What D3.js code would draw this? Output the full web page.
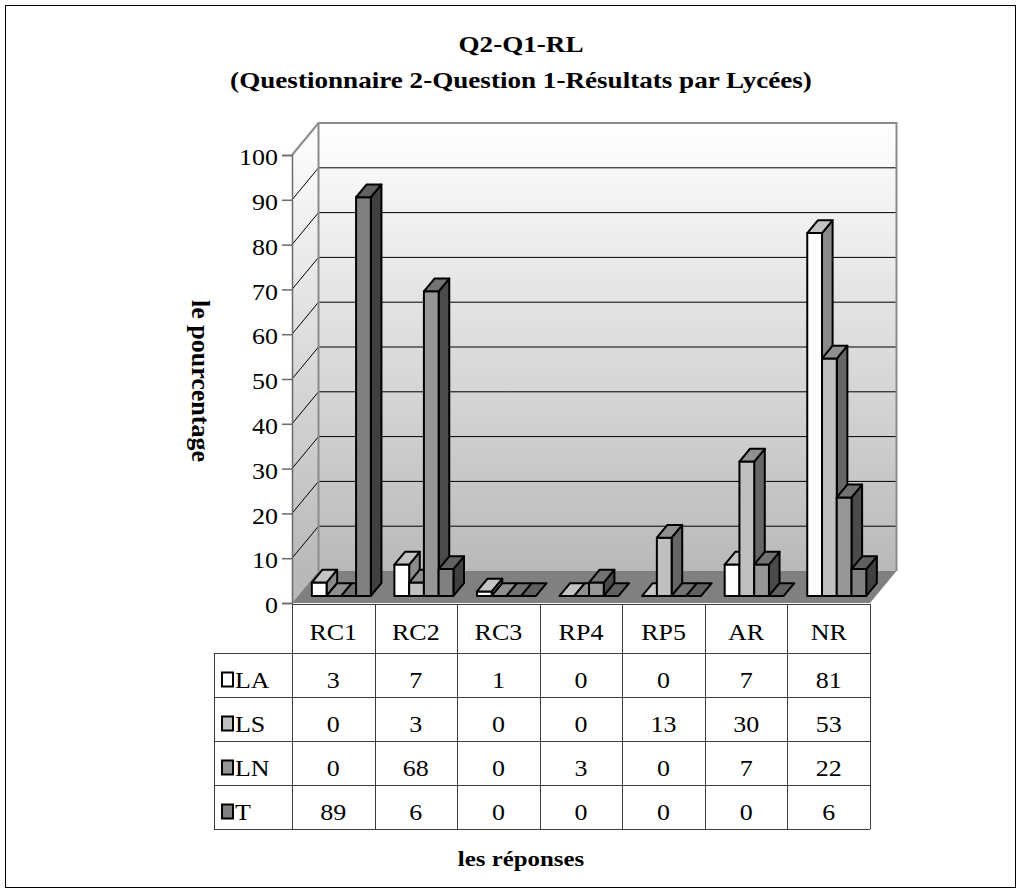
<!DOCTYPE html>
<html>
<head>
<meta charset="utf-8">
<script src="https://cdn.jsdelivr.net/npm/d3@7"></script>
<style>
  html, body { margin: 0; padding: 0; background: #fff; }
  svg text { font-family: "Liberation Serif", "Times New Roman", Times, serif; }
</style>
</head>
<body>
<svg id="chart" width="1021" height="893"></svg>
<script>
// Responses (categories) and the share of each school for every response, in percent
const categories = ["RC1", "RC2", "RC3", "RP4", "RP5", "AR", "NR"];
const seriesNames = ["LA", "LS", "LN", "T"];
const valuesLA = [3, 7, 1, 0, 0, 7, 81];
const valuesLS = [0, 3, 0, 0, 13, 30, 53];
const valuesLN = [0, 68, 0, 3, 0, 7, 22];
const valuesT  = [89, 6, 0, 0, 0, 0, 6];
const yTicks = [0, 10, 20, 30, 40, 50, 60, 70, 80, 90, 100];

const series = [
  { name: "LA", values: valuesLA, front: "#ffffff", top: "#c4c4c4", side: "#8a8a8a" },
  { name: "LS", values: valuesLS, front: "#c0c0c0", top: "#909090", side: "#666666" },
  { name: "LN", values: valuesLN, front: "#969696", top: "#727272", side: "#4b4b4b" },
  { name: "T",  values: valuesT,  front: "#808080", top: "#606060", side: "#404040" }
];

const svg = d3.select("#chart");
const W = 1021, H = 893;
const SX = 1.13; // horizontal widening of the text face

// text helper: places a horizontally widened label at (px, py)
function label(parent, px, py, txt, size, opts = {}) {
  const g = parent.append("g").attr("transform", `translate(${px},${py}) scale(${SX},1)`);
  return g.append("text").attr("x", 0).attr("y", 0)
    .attr("text-anchor", opts.anchor || "middle")
    .attr("font-weight", opts.bold ? "bold" : "normal")
    .attr("font-size", size).attr("fill", "#000").text(txt);
}

// frame
svg.append("rect").attr("x", 5.5).attr("y", 5.5).attr("width", W - 11).attr("height", H - 11)
  .attr("fill", "#fff").attr("stroke", "#000").attr("stroke-width", 1);

// title
label(svg, 521, 52, "Q2-Q1-RL", 24, { bold: true });
label(svg, 521, 88, "(Questionnaire 2-Question 1-Résultats par Lycées)", 24, { bold: true });

// 3D plot frame: front plane scales plus a depth offset
const x = d3.scaleBand().domain(categories).range([292, 870]);
const y = d3.scaleLinear().domain([0, 100]).range([603, 155]);
const xs = d3.scaleBand().domain(seriesNames).range([14, 73]);
const DX = 26.5, DY = -32;
const P = (px, v, z) => [px + z * DX, y(v) + z * DY];
const [xL, xR] = x.range();

const defs = svg.append("defs");
const grad = defs.append("linearGradient").attr("id", "wallGrad")
  .attr("gradientUnits", "userSpaceOnUse")
  .attr("x1", 0).attr("y1", P(xL, 100, 1)[1]).attr("x2", 0).attr("y2", P(xL, 0, 1)[1]);
grad.append("stop").attr("offset", 0).attr("stop-color", "#ffffff");
grad.append("stop").attr("offset", 1).attr("stop-color", "#b9b9b9");

const poly = pts => pts.map(p => p.join(",")).join(" ");

// back wall
svg.append("polygon")
  .attr("points", poly([P(xL, 100, 1), P(xR, 100, 1), P(xR, 0, 1), P(xL, 0, 1)]))
  .attr("fill", "url(#wallGrad)");
// side wall
svg.append("polygon")
  .attr("points", poly([P(xL, 100, 0), P(xL, 100, 1), P(xL, 0, 1), P(xL, 0, 0)]))
  .attr("fill", "url(#wallGrad)");

// gridlines on back and side walls
const inner = yTicks.filter(t => t > 0 && t < 100);
svg.append("g").selectAll("line").data(inner).join("line")
  .attr("x1", d => P(xL, d, 1)[0]).attr("y1", d => P(xL, d, 1)[1])
  .attr("x2", d => P(xR, d, 1)[0]).attr("y2", d => P(xR, d, 1)[1])
  .attr("stroke", "#000").attr("stroke-width", 1);
svg.append("g").selectAll("line").data(inner).join("line")
  .attr("x1", d => P(xL, d, 0)[0]).attr("y1", d => P(xL, d, 0)[1])
  .attr("x2", d => P(xL, d, 1)[0]).attr("y2", d => P(xL, d, 1)[1])
  .attr("stroke", "#000").attr("stroke-width", 1);

// wall edges
const edge = "#8c8c8c";
svg.append("polyline")
  .attr("points", poly([P(xL, 100, 0), P(xL, 100, 1), P(xR, 100, 1), P(xR, 0, 1)]))
  .attr("fill", "none").attr("stroke", edge).attr("stroke-width", 2);
svg.append("line")
  .attr("x1", P(xL, 100, 1)[0]).attr("y1", P(xL, 100, 1)[1])
  .attr("x2", P(xL, 0, 1)[0]).attr("y2", P(xL, 0, 1)[1])
  .attr("stroke", edge).attr("stroke-width", 2);

// floor
svg.append("polygon")
  .attr("points", poly([P(xL, 0, 0), P(xR, 0, 0), P(xR, 0, 1), P(xL, 0, 1)]))
  .attr("fill", "#808080");

// bars, drawn category by category, left to right
const z0 = 0.22, zd = 0.4;
const bw = xs.bandwidth();
const bars = svg.append("g").attr("stroke", "#000").attr("stroke-width", 2)
  .attr("stroke-linejoin", "round");
categories.forEach((c, i) => {
  series.forEach(s => {
    const v = s.values[i];
    const bx = x(c) + xs(s.name);
    const fl = P(bx, v, z0), fr = P(bx + bw, v, z0);
    const bl = P(bx, v, z0 + zd), br = P(bx + bw, v, z0 + zd);
    const flb = P(bx, 0, z0), frb = P(bx + bw, 0, z0), brb = P(bx + bw, 0, z0 + zd);
    if (v > 0) {
      bars.append("polygon").attr("points", poly([fr, br, brb, frb])).attr("fill", s.side);
      bars.append("polygon").attr("points", poly([fl, fr, frb, flb])).attr("fill", s.front);
    }
    bars.append("polygon").attr("points", poly([fl, bl, br, fr])).attr("fill", s.top);
  });
});

// front value axis
const axis = svg.append("g").attr("transform", `translate(${xL},0)`)
  .call(d3.axisLeft(y).tickValues(yTicks).tickSize(10).tickPadding(3).tickFormat(d3.format("d")));
axis.attr("font-family", null).attr("font-size", null);
axis.select(".domain").attr("stroke", "#6a6a6a").attr("stroke-width", 1.5);
axis.selectAll(".tick line").attr("stroke", "#6a6a6a").attr("stroke-width", 1.5);
axis.selectAll(".tick text").attr("font-size", 23).attr("fill", "#000")
  .attr("dy", "0.42em").attr("transform", `scale(${SX},1)`)
  .attr("x", -14 / SX);

// y title (reads top to bottom)
svg.append("text").attr("transform", "translate(192,381) rotate(90)")
  .attr("text-anchor", "middle").attr("font-weight", "bold").attr("font-size", 26)
  .text("le pourcentage");

// data table
const tableTop = 604, headerBottom = 653, rowH = 44, legendLeft = 214;
const rowsBottom = headerBottom + rowH * seriesNames.length;
const tbl = svg.append("g");
const lineColor = "#3c3c3c";
// horizontal rules
tbl.append("line").attr("x1", xL).attr("x2", xR).attr("y1", tableTop + 0.5).attr("y2", tableTop + 0.5)
  .attr("stroke", lineColor);
d3.range(seriesNames.length + 1).forEach(k => {
  const yy = headerBottom + k * rowH + 0.5;
  tbl.append("line").attr("x1", legendLeft).attr("x2", xR).attr("y1", yy).attr("y2", yy)
    .attr("stroke", lineColor);
});
// vertical rules
d3.range(categories.length + 1).forEach(k => {
  const xx = Math.round(xL + k * x.step()) + 0.5;
  tbl.append("line").attr("x1", xx).attr("x2", xx).attr("y1", tableTop).attr("y2", rowsBottom)
    .attr("stroke", lineColor);
});
tbl.append("line").attr("x1", legendLeft + 0.5).attr("x2", legendLeft + 0.5)
  .attr("y1", headerBottom).attr("y2", rowsBottom).attr("stroke", lineColor);

// category labels
categories.forEach(c => {
  label(tbl, x(c) + x.bandwidth() / 2, (tableTop + headerBottom) / 2 + 11, c, 23);
});

// series rows: legend key, name and values
series.forEach((s, r) => {
  const cy = headerBottom + r * rowH + rowH / 2;
  tbl.append("rect").attr("x", 222).attr("y", cy - 2.5).attr("width", 11).attr("height", 14)
    .attr("fill", s.front).attr("stroke", "#000").attr("stroke-width", 2);
  label(tbl, 235, cy + 12.5, s.name, 23, { anchor: "start" });
  categories.forEach((c, i) => {
    label(tbl, x(c) + x.bandwidth() / 2, cy + 12.5, s.values[i], 23);
  });
});

// x title
label(svg, 521, 866, "les réponses", 22, { bold: true });
</script>
</body>
</html>
